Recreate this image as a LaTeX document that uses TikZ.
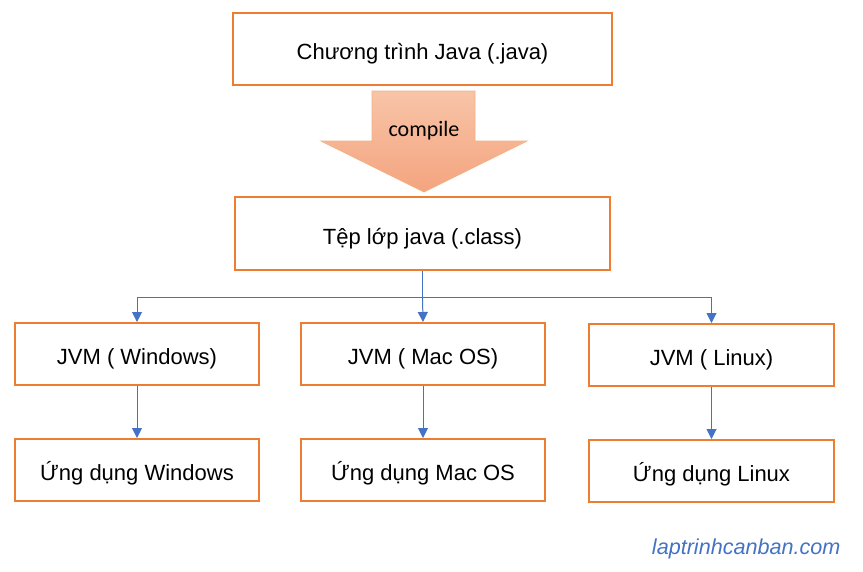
\documentclass[tikz,border=0pt]{standalone}
\usepackage{fontspec}
\setmainfont{Liberation Sans}
\newfontfamily\calib{Carlito}
\usetikzlibrary{arrows.meta}
\definecolor{boxor}{HTML}{ED7D31}
\definecolor{linkblue}{HTML}{4472C4}
\definecolor{arrtop}{HTML}{F8C4A8}
\definecolor{arrbot}{HTML}{F4A47F}
\definecolor{arredge}{HTML}{F4B183}
\tikzset{
  box/.style={draw=boxor, line width=2pt, fill=white, inner sep=0pt, text height=25pt, text depth=4pt, font=\fontsize{22}{24}\selectfont},
  link/.style={draw=linkblue, line width=1pt, -{Triangle[width=10pt,length=10pt]}},
  plain/.style={draw=linkblue, line width=1pt}
}
\begin{document}
\begin{tikzpicture}[x=1pt,y=-1pt]
\useasboundingbox (0,0) rectangle (863,571);
\node[box, minimum width=379pt, minimum height=72pt] (java) at (422.5,49) {Chương trình Java (.java)};
\shade[top color=arrtop, bottom color=arrbot, draw=arredge, line width=0.8pt]
  (372,91) -- (475,91) -- (475,141) -- (527,141) -- (424,192) -- (321,141) -- (372,141) -- cycle;
\node[font=\calib\fontsize{22}{24}\selectfont] (comp) at (424,131) {compile};
\node[box, minimum width=375pt, minimum height=73pt] (cls) at (422.5,233.5) {Tệp lớp java (.class)};
\node[box, minimum width=244pt, minimum height=62pt] (jw) at (137,354) {JVM ( Windows)};
\node[box, minimum width=244pt, minimum height=62pt] (jm) at (423,354) {JVM ( Mac OS)};
\node[box, minimum width=245pt, minimum height=62pt] (jl) at (711.5,355) {JVM ( Linux)};
\node[box, minimum width=244pt, minimum height=62pt] (aw) at (137,470) {Ứng dụng Windows};
\node[box, minimum width=244pt, minimum height=62pt] (am) at (423,470) {Ứng dụng Mac OS};
\node[box, minimum width=245pt, minimum height=62pt] (al) at (711.5,471) {Ứng dụng Linux};
\coordinate (split) at (cls.south |- 0,297);
\draw[plain] (cls.south) -- (split);
\draw[link] (split) -| (jw.north);
\draw[link] (split) -| (jl.north);
\draw[link] (split) -- (jm.north);
\draw[link] (jw.south) -- (aw.north);
\draw[link] (jm.south) -- (am.north);
\draw[link] (jl.south) -- (al.north);
\node[text=linkblue, font=\itshape\fontsize{21.6}{24}\selectfont, anchor=east] (wm) at (844,548.5) {laptrinhcanban.com};
\end{tikzpicture}
\end{document}
